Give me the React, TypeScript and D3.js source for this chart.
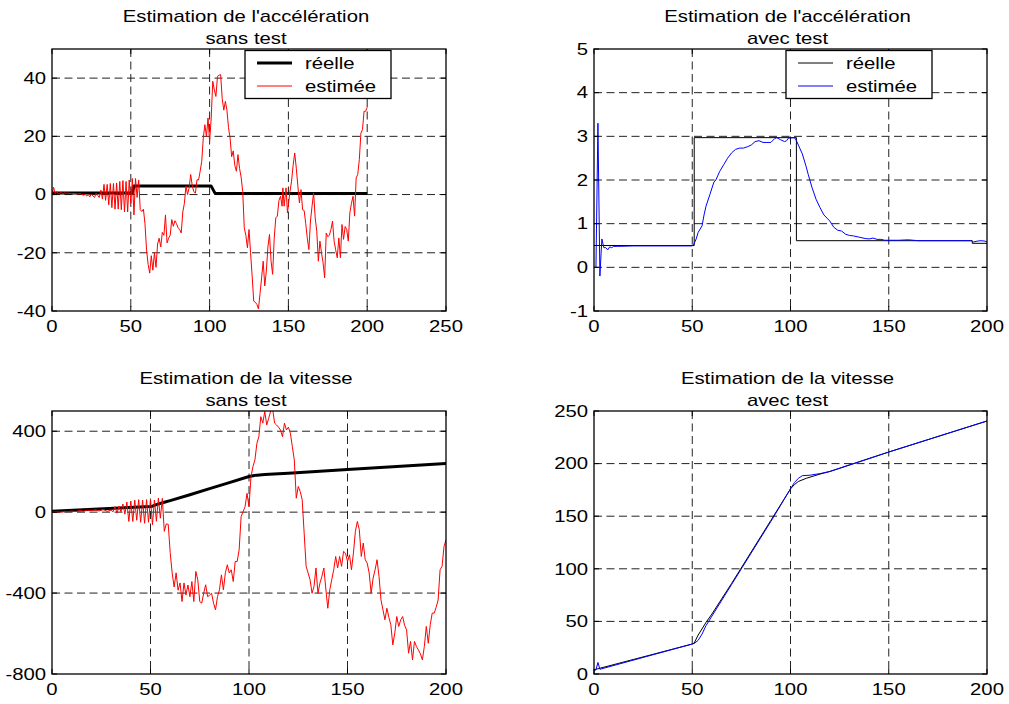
import React from "react";
import * as d3 from "d3";

// ---- data: time axis (échantillons) and signals ----
const xTicksWide = [0, 50, 100, 150, 200, 250];
const xTicks = [0, 50, 100, 150, 200];
const yTicksAccSans = [-40, -20, 0, 20, 40];
const yTicksAccAvec = [-1, 0, 1, 2, 3, 4, 5];
const yTicksVitSans = [-800, -400, 0, 400];
const yTicksVitAvec = [0, 50, 100, 150, 200, 250];

// real acceleration (sans test run)
const accRealSans: [number, number][] = [
  [0, 0.5], [51, 0.5], [52, 2.9], [101, 2.9], [103.5, 0.4], [200, 0.4],
];

// estimated acceleration without test
const accEstSans: [number, number][] = [
  [0, 0], [1, 2.5], [2, 0.3], [3, 1], [4, 0.2], [5, 0.5], [6, 0.8], [7, 0.3], [8, 0.6], [9, 0.4],
  [10, 0.5], [12, 0.3], [14, 0.4], [16, 0.2], [18, 0.3], [20, -0.2], [21, 0.1], [22, -0.5], [23, 0],
  [24, -0.8], [25, 0.2], [26, -0.5], [27, -1], [28, 0.5], [29, -0.3], [30, -1], [31, 1.5], [32, -1.5],
  [33, 3.5], [34, -2], [35, 3.5], [36, -3.5], [37, 3.8], [38, -4.5], [39, 3.8], [40, -5], [41, 4],
  [42, -5], [43, 4.5], [44, -5.2], [45, 4.8], [46, -6], [47, 4.5], [48, -6], [49, 5], [50, -3],
  [51, 5.5], [52, -7], [53, 5.5], [54, -1], [55, 5], [56, -5.2], [57, -5.8], [58, -5], [59, -10],
  [60, -19], [61, -24], [62, -27], [63, -21], [64, -26], [65, -20], [66, -25], [67, -17], [68, -15],
  [69, -18], [70, -13], [71, -14], [72, -7], [73, -16.6], [74, -15], [75, -14], [76, -8.6], [77, -10.9],
  [78, -9], [79, -10], [80, -11.4], [81, -12], [82, -13.2], [83, -6], [84, -3], [85, 2.9], [86, 0],
  [87, 2.3], [88, 6.9], [89, 3], [90, 1], [91, 0.5], [92, 5.1], [93, 5], [94, 8], [95, 11.4],
  [96, 19.4], [97, 24], [98, 20], [99, 26.3], [100, 18.3], [101, 26], [102, 38.9], [103, 36],
  [104, 33.7], [105, 40.6], [106, 41], [107, 41.2], [108, 33], [109, 29], [110, 32], [111, 29],
  [112, 23], [113, 19.4], [114, 13], [115, 15], [116, 10], [117, 8], [118, 13.7], [119, 9],
  [120, 6], [121, 1.1], [122, -11.4], [123, -14], [124, -18.3], [125, -12], [126, -20], [127, -28],
  [128, -36.6], [129, -37], [130, -37.7], [131, -39.3], [132, -34], [133, -28.6], [134, -22.9],
  [135, -31.4], [136, -26.3], [137, -18], [138, -13.7], [139, -22.9], [140, -27.4], [141, -15],
  [142, -8], [143, -7.4], [144, -2], [145, -0.6], [146, -4], [146.5, 2.3], [147.3, -4], [148.5, 2.3],
  [149.4, -6.3], [151, 1.1], [152, 4.6], [153, 10], [154, 14.3], [155, 9.1], [156, 3], [157, -2.9],
  [158, 1.7], [159, -5.2], [160, -5.5], [161, -10], [162, -15], [163, -18.9], [164, -9.1],
  [165, -4], [166, 0.6], [167, -8], [168, -12.6], [169, -22.9], [170, -16], [171, -20],
  [172, -23.4], [173, -28.6], [174, -13.2], [175, -14.5], [176, -14], [177, -12], [178, -9.1],
  [179, -16], [180, -19], [181, -21.7], [182, -14.9], [183, -21.7], [184, -10.3], [185, -15.4],
  [186, -11], [187, -12], [188, -16], [189, -6.3], [190, -3], [191, -0.6], [192, -7.4], [193, 5.7],
  [194, 6.9], [195, 12], [196, 21.1], [197, 22.3], [198, 28.6], [199, 28.6], [200, 30],
];

// real acceleration (avec test run)
const accRealAvec: [number, number][] = [
  [0, 0.5], [51, 0.5], [51, 2.97], [103, 2.97], [103, 0.61], [192.5, 0.61], [192.5, 0.55], [200, 0.55],
];

// estimated acceleration with test
const accEstAvec: [number, number][] = [
  [0, 0], [1, 0], [2, 3.3], [3, -0.2], [4, 0.65], [5, 0.45], [6, 0.45], [7, 0.4], [8, 0.47],
  [9, 0.45], [10, 0.48], [12, 0.48], [20, 0.49], [50, 0.49], [51, 0.55], [52, 0.65], [53, 0.8],
  [55, 0.95], [56, 1.2], [57, 1.4], [59, 1.67], [61, 1.95], [62, 2.0], [64, 2.2], [66, 2.35],
  [68, 2.5], [70, 2.62], [72, 2.7], [74, 2.73], [76, 2.73], [78, 2.76], [80, 2.8], [82, 2.88],
  [84, 2.9], [86, 2.86], [88, 2.86], [90, 2.86], [92, 2.95], [93, 2.97], [95, 2.92], [97, 2.88],
  [98, 2.9], [99, 2.96], [102, 2.97], [103, 2.9], [104, 2.8], [106, 2.6], [108, 2.3], [109, 2.13],
  [111, 1.82], [113, 1.56], [115, 1.37], [117, 1.2], [120, 1.06], [122, 0.92], [124, 0.85],
  [126, 0.83], [128, 0.76], [130, 0.73], [132, 0.72], [135, 0.69], [138, 0.66], [140, 0.65],
  [142, 0.67], [144, 0.64], [146, 0.64], [148, 0.62], [150, 0.62], [155, 0.62], [160, 0.63],
  [165, 0.61], [192, 0.61], [193, 0.58], [195, 0.6], [197, 0.61], [199, 0.6], [200, 0.58],
];

// real velocity
const velReal: [number, number][] = [
  [0, 4], [50, 28.5], [51, 29.5], [53, 37], [57, 49], [60, 57], [70, 86], [80, 116], [90, 146],
  [100, 176], [102, 180], [104, 183], [108, 186], [115, 190], [120, 192.5], [150, 211], [200, 240.5],
];

// estimated velocity without test
const velEstSans: [number, number][] = [
  [0, 0], [2, 2], [4, 0], [6, 3], [8, 2], [10, 5], [12, 3], [14, 8], [16, 5], [18, 10], [20, 8],
  [22, 12], [24, 6], [26, 14], [28, 4], [30, 10], [31, 2], [32, 28], [33, -5], [34, 30], [35, 2],
  [36, 40], [37, -10], [38, 50], [39, -46], [40, 55], [41, -46], [42, 60], [43, -40], [44, 62],
  [45, -50], [46, 60], [47, -55], [48, 62], [49, -50], [50, 65], [51, -62], [52, 60], [53, -45],
  [54, 70], [55, -30], [56, 68], [57, -95], [58, -58], [59, -60], [60, -200], [61, -300],
  [62, -370], [63, -300], [64, -386], [65, -350], [66, -442], [67, -350], [68, -410], [69, -360],
  [70, -418], [71, -343], [72, -442], [73, -293], [74, -334], [75, -442], [76, -450], [77, -401],
  [78, -359], [79, -418], [80, -410], [81, -401], [82, -450], [83, -483], [84, -418], [85, -384],
  [86, -310], [87, -384], [88, -300], [89, -260], [90, -301], [91, -285], [92, -343], [93, -244],
  [94, -244], [95, -186], [96, -22], [97, 3], [98, 27], [99, 93], [100, 27], [101, 175], [102, 225],
  [103, 258], [104, 340], [105, 373], [106, 472], [107, 440], [108, 497], [109, 431], [110, 464],
  [111, 500], [112, 510], [113, 440], [114, 431], [115, 420], [116, 406], [117, 373], [118, 440],
  [119, 406], [120, 420], [121, 390], [122, 324], [123, 258], [124, 69], [125, 127], [126, 102],
  [127, 61], [128, -104], [129, -268], [130, -301], [131, -334], [132, -401], [133, -367],
  [134, -276], [135, -401], [136, -351], [137, -318], [138, -276], [139, -380], [140, -475],
  [141, -384], [142, -334], [143, -285], [144, -219], [145, -276], [146, -219], [147, -268],
  [148, -194], [149, -203], [150, -244], [151, -211], [152, -285], [153, -203], [154, -95],
  [155, -46], [156, -87], [157, -219], [158, -153], [159, -235], [160, -252], [161, -301],
  [162, -401], [163, -326], [164, -285], [165, -235], [166, -318], [167, -434], [168, -483],
  [169, -532], [170, -475], [171, -520], [172, -557], [173, -656], [174, -598], [175, -516],
  [176, -565], [177, -532], [178, -516], [179, -560], [180, -582], [181, -697], [182, -639],
  [183, -730], [184, -639], [185, -664], [186, -681], [187, -700], [188, -730], [189, -664],
  [190, -565], [191, -648], [192, -557], [193, -499], [194, -499], [195, -470], [196, -434],
  [197, -285], [198, -268], [199, -170], [200, -137],
];

// estimated velocity with test
const velEstAvec: [number, number][] = [
  [0, 3], [1, 4], [2, 11], [3, 4.5], [4, 5], [50, 28.5], [51, 29], [53, 32], [55, 38], [57, 46],
  [60, 55], [70, 85], [80, 115], [90, 145], [100, 176], [102, 182], [104, 186], [106, 188.5],
  [110, 189], [115, 190.5], [120, 192.5], [150, 211], [200, 240.5],
];

const titleLine1Acc = "Estimation de l'accélération";
const titleLine1Vit = "Estimation de la vitesse";
const legendLabels = ["réelle", "estimée"];

// ---- drawing ----
const FONT = "'Liberation Sans', Arial, Helvetica, sans-serif";
const STRETCH = 1.27;

type Series = { data: [number, number][]; color: string; width: number };

function Label(props: { x: number; y: number; anchor: string; children: string }) {
  return (
    <text
      transform={`translate(${props.x},${props.y}) scale(${STRETCH},1)`}
      textAnchor={props.anchor}
      fontFamily={FONT}
      fontSize={16}
      fill="#000"
    >
      {props.children}
    </text>
  );
}

function Panel(props: {
  id: string;
  left: number; right: number; top: number; bottom: number;
  xDomain: [number, number]; yDomain: [number, number];
  xTicks: number[]; yTicks: number[];
  title1: string; title2: string;
  series: Series[];
  legend?: boolean;
}) {
  const { left, right, top, bottom } = props;
  const x = d3.scaleLinear().domain(props.xDomain).range([left, right]);
  const y = d3.scaleLinear().domain(props.yDomain).range([bottom, top]);
  const line = d3.line<[number, number]>().x((d) => x(d[0])).y((d) => y(d[1]));
  const cx = (left + right) / 2 - 3;
  const lx = right - 55 - 146;
  const ly = top + 1.5;
  return (
    <g>
      <defs>
        <clipPath id={props.id}>
          <rect x={left} y={top} width={right - left} height={bottom - top} />
        </clipPath>
      </defs>
      <rect x={left} y={top} width={right - left} height={bottom - top} fill="#fff" />
      {/* grid */}
      {props.xTicks.filter((t) => t > props.xDomain[0] && t < props.xDomain[1]).map((t) => (
        <line key={"gx" + t} x1={x(t)} x2={x(t)} y1={top} y2={bottom} stroke="#222" strokeWidth={1} strokeDasharray="8,4.5" />
      ))}
      {props.yTicks.filter((t) => t > props.yDomain[0] && t < props.yDomain[1]).map((t) => (
        <line key={"gy" + t} x1={left} x2={right} y1={y(t)} y2={y(t)} stroke="#222" strokeWidth={1} strokeDasharray="8,4.5" />
      ))}
      {/* curves */}
      <g clipPath={`url(#${props.id})`}>
        {props.series.map((s, i) => (
          <path key={i} d={line(s.data) || ""} fill="none" stroke={s.color} strokeWidth={s.width} strokeLinejoin="round" />
        ))}
      </g>
      {/* tick marks */}
      {props.xTicks.map((t) => (
        <g key={"tx" + t}>
          <line x1={x(t)} x2={x(t)} y1={bottom} y2={bottom - 5} stroke="#000" />
          <line x1={x(t)} x2={x(t)} y1={top} y2={top + 5} stroke="#000" />
        </g>
      ))}
      {props.yTicks.map((t) => (
        <g key={"ty" + t}>
          <line x1={left} x2={left + 5} y1={y(t)} y2={y(t)} stroke="#000" />
          <line x1={right} x2={right - 5} y1={y(t)} y2={y(t)} stroke="#000" />
        </g>
      ))}
      <rect x={left} y={top} width={right - left} height={bottom - top} fill="none" stroke="#000" strokeWidth={1.3} />
      {/* tick labels */}
      {props.xTicks.map((t) => (
        <Label key={"lx" + t} x={x(t)} y={bottom + 21} anchor="middle">{String(t)}</Label>
      ))}
      {props.yTicks.map((t) => (
        <Label key={"ly" + t} x={left - 6} y={y(t) + 5.8} anchor="end">{String(t)}</Label>
      ))}
      {/* title */}
      <Label x={cx} y={top - 26.8} anchor="middle">{props.title1}</Label>
      <Label x={cx} y={top - 4.8} anchor="middle">{props.title2}</Label>
      {/* legend */}
      {props.legend && (
        <g>
          <rect x={lx} y={ly} width={146} height={48} fill="#fff" stroke="#000" strokeWidth={1.3} />
          {props.series.map((s, i) => {
            const ry = ly + 12.5 + i * 23;
            return (
              <g key={"lg" + i}>
                <line x1={lx + 12} x2={lx + 47} y1={ry} y2={ry} stroke={s.color} strokeWidth={s.width} />
                <Label x={lx + 60} y={ry + 5.5} anchor="start">{legendLabels[i]}</Label>
              </g>
            );
          })}
        </g>
      )}
    </g>
  );
}

export default function App() {
  return (
    <svg
      width={1009}
      height={704}
      style={{ position: "absolute", left: 0, top: 0, background: "#fff" }}
    >
      <rect x={0} y={0} width={1009} height={704} fill="#fff" />
      <Panel
        id="c1" left={52} right={446} top={49} bottom={311}
        xDomain={[0, 250]} yDomain={[-40, 50]}
        xTicks={xTicksWide} yTicks={yTicksAccSans}
        title1={titleLine1Acc} title2="sans test"
        series={[
          { data: accRealSans, color: "#000", width: 3 },
          { data: accEstSans, color: "#ff0000", width: 1 },
        ]}
        legend
      />
      <Panel
        id="c2" left={594} right={987} top={49} bottom={311}
        xDomain={[0, 200]} yDomain={[-1, 5]}
        xTicks={xTicks} yTicks={yTicksAccAvec}
        title1={titleLine1Acc} title2="avec test"
        series={[
          { data: accRealAvec, color: "#000", width: 1 },
          { data: accEstAvec, color: "#0000ff", width: 1 },
        ]}
        legend
      />
      <Panel
        id="c3" left={52} right={446} top={411} bottom={674}
        xDomain={[0, 200]} yDomain={[-800, 500]}
        xTicks={xTicks} yTicks={yTicksVitSans}
        title1={titleLine1Vit} title2="sans test"
        series={[
          { data: velReal, color: "#000", width: 3 },
          { data: velEstSans, color: "#ff0000", width: 1 },
        ]}
      />
      <Panel
        id="c4" left={594} right={987} top={411} bottom={674}
        xDomain={[0, 200]} yDomain={[0, 250]}
        xTicks={xTicks} yTicks={yTicksVitAvec}
        title1={titleLine1Vit} title2="avec test"
        series={[
          { data: velReal, color: "#000", width: 1 },
          { data: velEstAvec, color: "#0000ff", width: 1 },
        ]}
      />
    </svg>
  );
}
